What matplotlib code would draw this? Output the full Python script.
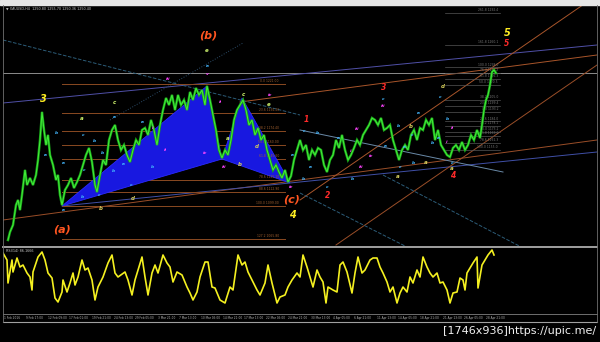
import matplotlib
matplotlib.use("Agg")
import matplotlib.pyplot as plt
from matplotlib.patches import Polygon

W, H = 600, 342

# price line (bar position, price)
bar_x = [8, 10, 13, 16, 18, 20, 22, 25, 27, 30, 33, 36, 38, 40, 42, 44, 46, 48, 50, 53,
         56, 58, 60, 62, 65, 68, 71, 74, 77, 80, 83, 86, 89, 92, 95, 97, 100, 103, 106, 109,
         112, 115, 118, 121, 124, 127, 130, 133, 136, 139, 142, 145, 148, 151, 154, 157, 160, 163, 166, 169,
         172, 175, 178, 181, 184, 187, 190, 193, 196, 199, 202, 205, 207, 210, 213, 216, 219, 222, 225, 228,
         231, 234, 237, 240, 243, 246, 249, 252, 255, 258, 261, 264, 267, 270, 273, 276, 279, 282, 285, 288,
         291, 294, 297, 300, 303, 306, 309, 312, 315, 318, 321, 324, 327, 330, 333, 336, 339, 342, 345, 348,
         351, 354, 357, 360, 363, 366, 369, 372, 375, 378, 381, 384, 387, 390, 393, 396, 399, 402, 405, 408,
         411, 414, 417, 420, 423, 426, 429, 432, 435, 438, 441, 444, 447, 450, 453, 456, 459, 462, 465, 468,
         471, 474, 477, 480, 482, 484, 486, 488, 490, 492, 494, 496]
price = [1065, 1073, 1080, 1100, 1105, 1095, 1110, 1135, 1120, 1127, 1120, 1130, 1145, 1165, 1193, 1175, 1160, 1170, 1150, 1140,
         1125, 1130, 1110, 1100, 1115, 1120, 1127, 1117, 1123, 1130, 1140, 1150, 1157, 1143, 1120, 1113, 1130, 1145, 1140, 1165,
         1175, 1180, 1165, 1155, 1160, 1150, 1143, 1155, 1165, 1160, 1175, 1177, 1170, 1185, 1175, 1160, 1180, 1195, 1207, 1200,
         1210, 1195, 1210, 1200, 1205, 1195, 1213, 1205, 1217, 1210, 1215, 1200, 1219, 1205, 1190, 1175, 1155, 1147, 1155, 1150,
         1165, 1185, 1195, 1200, 1205, 1195, 1180, 1185, 1170, 1177, 1165, 1170, 1155, 1145, 1135, 1140, 1133, 1127, 1135, 1123,
         1129, 1145, 1155, 1165, 1155, 1160, 1145, 1155, 1150, 1157, 1155, 1140, 1133, 1145, 1150, 1165, 1157, 1170, 1155, 1145,
         1150, 1157, 1165, 1160, 1170, 1175, 1180, 1187, 1185, 1180, 1187, 1175, 1177, 1180, 1165, 1155, 1145, 1155, 1160, 1155,
         1170, 1175, 1165, 1177, 1175, 1185, 1180, 1187, 1165, 1175, 1160, 1155, 1150, 1148, 1157, 1160, 1155, 1163, 1155, 1160,
         1170, 1165, 1175, 1167, 1180, 1195, 1205, 1210, 1220, 1233, 1235, 1232]

# oscillator
osc_x = [3, 7, 8, 12, 13, 17, 20, 23, 27, 30, 32, 33, 38, 42, 45, 48, 52, 55, 58, 62,
         63, 67, 70, 73, 75, 78, 82, 85, 88, 92, 95, 98, 103, 108, 112, 115, 118, 125, 128, 132,
         135, 138, 142, 145, 148, 152, 155, 158, 163, 167, 170, 173, 177, 182, 187, 190, 193, 197, 200, 205,
         208, 212, 215, 220, 225, 230, 233, 238, 242, 245, 248, 253, 257, 260, 265, 268, 272, 277, 280, 285,
         288, 292, 297, 300, 303, 307, 310, 313, 317, 320, 323, 326, 328, 333, 337, 340, 343, 347, 352, 355,
         358, 362, 365, 370, 373, 377, 380, 383, 387, 390, 393, 397, 400, 403, 407, 410, 413, 417, 420, 423,
         427, 430, 433, 437, 440, 443, 447, 450, 453, 457, 460, 463, 465, 467, 470, 473, 477, 478, 482, 485,
         488, 492, 494]
osc = [59, 52, 29, 52, 40, 54, 45, 47, 39, 35, 22, 40, 55, 60, 52, 39, 34, 14, 10, 20,
       32, 20, 29, 39, 27, 35, 52, 42, 44, 32, 12, 25, 35, 49, 57, 39, 35, 40, 32, 17,
       32, 42, 55, 35, 17, 39, 47, 39, 57, 49, 45, 30, 40, 37, 25, 19, 12, 20, 35, 50,
       50, 25, 24, 12, 9, 25, 22, 57, 47, 50, 40, 30, 22, 17, 29, 47, 29, 9, 15, 17,
       25, 32, 39, 35, 57, 45, 35, 25, 42, 35, 30, 9, 25, 22, 20, 47, 50, 40, 19, 39,
       55, 39, 42, 52, 54, 54, 45, 39, 30, 20, 25, 9, 19, 25, 20, 35, 29, 42, 35, 55,
       45, 39, 35, 39, 29, 30, 22, 9, 19, 20, 34, 32, 22, 39, 44, 49, 55, 24, 47, 52,
       57, 62, 57]

# harmonic pattern (bar, price)
pattern = [[(62, 1099), (207, 1219), (222, 1146)],
           [(222, 1146), (242, 1207), (290, 1122)]]

# fibonacci levels
fib_left_lvl = ["0.0", "23.6", "38.2", "50.0", "61.8", "78.6", "88.6", "100.0", "127.2"]
fib_left_px = [1221.0, 1192.2, 1174.4, 1160.0, 1145.6, 1125.1, 1112.9, 1099.0, 1065.8]
fib_right_lvl = ["261.8", "161.8", "100.0", "76.4", "61.8", "50.0", "38.2", "23.6", "0.0",
                 "23.6", "38.2", "50.0", "61.8", "78.6", "100.0"]
fib_right_px = [1292.4, 1260.1, 1238.0, 1232.2, 1226.3, 1220.5, 1205.0, 1199.4, 1193.2,
                1184.0, 1179.1, 1173.2, 1169.0, 1162.3, 1155.0]

# trend lines: (x0, p0, x1, p1, colour, style)
trend_lines = [
    (3, 1232, 597, 1232, "#8c8c8c", "-"),
    (3, 1202, 597, 1260, "#5050a8", "-"),
    (240, 1203, 597, 1250, "#a8552a", "-"),
    (3, 1085, 597, 1165, "#9a4e28", "-"),
    (62, 1099, 597, 1153, "#4050a8", "-"),
    (300, 1105, 590, 1305, "#a8552a", "-"),
    (336, 1060, 597, 1240, "#9a4e28", "-"),
    (3, 1265, 300, 1190, "#2c5c78", "--"),
    (110, 1185, 243, 1262, "#2c4c68", ":"),
    (300, 1175, 503, 1133, "#6a8aa8", "-"),
    (383, 1130, 527, 1055, "#2c5c78", "--"),
    (300, 1112, 407, 1058, "#2c5c78", "--"),
]

# wave labels: (text, bar, price, colour, size)
wave_labels = [
    ("(a)", 62, 1075, "#ff5520", 8), ("(b)", 208, 1270, "#ff5520", 8),
    ("(c)", 292, 1105, "#ff5520", 8),
    ("3", 43, 1206, "#ffee22", 7), ("4", 292, 1090, "#ffee22", 7),
    ("5", 507, 1272, "#ffee22", 7),
    ("5", 507, 1262, "#ff2a2a", 5.5), ("1", 306, 1185, "#ff2a2a", 5.5),
    ("3", 384, 1217, "#ff2a2a", 5.5), ("2", 328, 1109, "#ff2a2a", 5.5),
    ("4", 453, 1129, "#ff2a2a", 5.5),
]
small_labels = {
    "#c8ec6a": [("e", 207, 1254), ("c", 114, 1203), ("a", 82, 1187), ("c", 243, 1210),
                ("e", 269, 1200), ("a", 228, 1167)],
    "#d4cc5c": [("b", 101, 1097), ("d", 133, 1107), ("d", 257, 1158), ("d", 443, 1218),
                ("b", 411, 1179), ("a", 426, 1142), ("a", 398, 1128), ("a", 452, 1137),
                ("b", 240, 1140)],
    "#ff44ff": [("iii", 168, 1226), ("v", 207, 1231), ("ii", 220, 1203), ("iv", 270, 1210),
                ("ii", 165, 1155), ("iv", 205, 1152), ("iii", 224, 1138), ("iv", 291, 1118),
                ("i", 153, 1177), ("iii", 357, 1176), ("i", 351, 1154), ("iv", 371, 1149),
                ("iii", 361, 1138), ("ii", 452, 1177), ("i", 447, 1163), ("iii", 383, 1199)],
    "#44b8ff": [("a", 207, 1239), ("a", 114, 1188), ("b", 56, 1172), ("c", 83, 1170),
                ("b", 94, 1164), ("a", 45, 1150), ("a", 63, 1142), ("c", 84, 1135),
                ("b", 102, 1152), ("a", 123, 1141), ("b", 113, 1134), ("c", 131, 1120),
                ("b", 82, 1108), ("c", 99, 1110), ("a", 63, 1095), ("a", 142, 1183),
                ("b", 152, 1138), ("a", 292, 1150), ("c", 304, 1174), ("b", 317, 1172),
                ("a", 338, 1167), ("a", 310, 1138), ("b", 303, 1126), ("c", 327, 1118),
                ("b", 352, 1126), ("a", 385, 1159), ("b", 398, 1179), ("c", 412, 1170),
                ("c", 400, 1138), ("b", 413, 1142), ("c", 452, 1142), ("a", 438, 1167),
                ("b", 432, 1162), ("c", 383, 1206), ("c", 440, 1208), ("a", 418, 1192),
                ("a", 404, 1158), ("b", 447, 1186)],
}

date_pos = [3, 25, 47, 68, 91, 113, 134, 157, 178, 200, 222, 243, 265, 287,
            310, 332, 353, 376, 397, 419, 442, 463, 485]
date_labels = ["1 Feb 2016", "9 Feb 17:00", "12 Feb 09:00", "17 Feb 01:00", "19 Feb 21:00",
               "24 Feb 13:00", "29 Feb 05:00", "3 Mar 21:00", "7 Mar 13:00", "10 Mar 05:00",
               "14 Mar 21:00", "17 Mar 13:00", "22 Mar 05:00", "24 Mar 21:00",
               "30 Mar 13:00", "4 Apr 05:00", "6 Apr 21:00", "11 Apr 13:00", "14 Apr 05:00",
               "18 Apr 21:00", "21 Apr 13:00", "26 Apr 05:00", "28 Apr 21:00"]


def fx(x):
    return x / W


def fy(y):
    return 1 - y / H


fig = plt.figure(figsize=(6, 3.42), dpi=100, facecolor="black")

# main price panel
ax = fig.add_axes([fx(3), fy(246), fx(594), 241 / H], facecolor="black")
ax.set_xlim(3, 597)
ax.set_ylim(1059, 1300)
ax.axis("off")

for tri in pattern:
    ax.add_patch(Polygon(tri, closed=True, facecolor="#1818e0", edgecolor="#2a2aff", lw=0.6, zorder=2))

for x0, p0, x1, p1, c, ls in trend_lines:
    ax.plot([x0, x1], [p0, p1], color=c, lw=0.7, ls=ls, zorder=1)

for lvl, p in zip(fib_left_lvl, fib_left_px):
    ax.plot([62, 285], [p, p], color="#8a4a22", lw=0.7, zorder=1)
    ax.text(279, p + 1, f"{lvl} {p:.2f}", color="#a06030", fontsize=2.2, ha="right", va="bottom")

for lvl, p in zip(fib_right_lvl, fib_right_px):
    ax.plot([445, 500], [p, p], color="#555555", lw=0.5, zorder=1)
    ax.text(498, p + 0.5, f"{lvl} {p:.1f}", color="#777777", fontsize=2.2, ha="right", va="bottom")

ax.plot(bar_x, price, color="#18a018", lw=1.8, zorder=3, solid_joinstyle="miter")
ax.plot(bar_x, price, color="#44ee3a", lw=0.7, zorder=4)

for t, x, p, c, s in wave_labels:
    ax.text(x, p, t, color=c, fontsize=s, ha="center", va="center",
            fontweight="bold", fontstyle="italic", zorder=6)
for c, items in small_labels.items():
    sz = 4.0 if c in ("#c8ec6a", "#d4cc5c") else 3.2
    for t, x, p in items:
        ax.text(x, p, t, color=c, fontsize=sz, ha="center", va="center",
                fontweight="bold", fontstyle="italic", zorder=6)

# oscillator panel
ax2 = fig.add_axes([fx(3), fy(313), fx(594), 65 / H], facecolor="black")
ax2.set_xlim(3, 597)
ax2.set_ylim(-1, 64)
ax2.axis("off")
ax2.plot(osc_x, osc, color="#f4f020", lw=1.2)

# frame and separators
lines = fig.add_axes([0, 0, 1, 1], facecolor="none")
lines.set_xlim(0, W)
lines.set_ylim(H, 0)
lines.axis("off")
lines.add_patch(plt.Rectangle((0, 0), W, 4.5, color="#e6e6e6", zorder=0))
lines.plot([3, 597], [247, 247], color="#a0a0a0", lw=1.4)
lines.plot([3, 597], [313.5, 313.5], color="#808080", lw=0.6)
lines.plot([3, 597], [322, 322], color="#a0a0a0", lw=0.8)
lines.plot([3, 3], [5, 322], color="#707070", lw=0.6)
lines.plot([597, 597], [5, 322], color="#707070", lw=0.6)

fig.text(fx(6), fy(9), "\u25bc XAUUSD,H4  1250.80 1255.70 1250.36 1250.40", color="#c8c8c8",
         fontsize=2.4, va="center")
fig.text(fx(6), fy(251), "RSI(14) 86.1666", color="#c8c8c8", fontsize=2.4, va="center")
for x, lab in zip(date_pos, date_labels):
    fig.text(fx(x + 1), fy(318), lab, color="#b4b4b4", fontsize=2.1, va="center")

fig.text(fx(596), fy(331), "[1746x936]https://upic.me/", color="#f0f0f0", fontsize=8,
         ha="right", va="center")

fig.savefig("out.png", dpi=100, facecolor="black")
